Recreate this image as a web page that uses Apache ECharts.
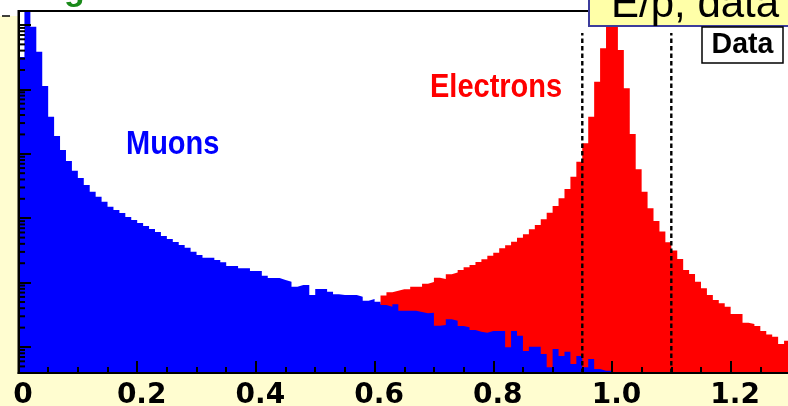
<!DOCTYPE html>
<html><head><meta charset="utf-8">
<script src="https://cdn.jsdelivr.net/npm/echarts@6/dist/echarts.min.js"></script>
<style>html,body{margin:0;padding:0;background:#fff}#c{width:788px;height:406px}</style>
</head><body><div id="c"></div>
<script>
// ---- data ----
const BIN_START = 0.0;
const BIN_WIDTH = 0.01;
const xTickLabels = ['0', '0.2', '0.4', '0.6', '0.8', '1.0', '1.2'];
const cutLines = [0.95, 1.1];
const cutTop = 75000;
const yMinorTicks = [0.5, 0.6, 0.7, 0.8, 0.9,
  2, 3, 4, 5, 6, 7, 8, 9,
  20, 30, 40, 50, 60, 70, 80, 90,
  200, 300, 400, 500, 600, 700, 800, 900,
  2000, 3000, 4000, 5000, 6000, 7000, 8000, 9000,
  20000, 30000, 40000, 50000, 60000, 70000, 80000, 90000];
const muons = [
  31850, 250000, 94200, 38500, 11300, 3770, 1890, 1146, 773, 547,
  421, 328, 258, 216, 180, 151, 134, 120, 104, 94,
  84, 76, 68, 61, 53, 47.5, 42.7, 38.4, 34.8, 30.2,
  26.8, 24.4, 24.4, 22.4, 20.7, 18.1, 18.1, 16.7, 16.7, 15.1,
  15.1, 12.8, 11.8, 11.8, 11.0, 10.3, 8.64, 9.18, 9.18, 6.42,
  7.96, 7.96, 7.22, 6.58, 6.42, 6.42, 6.42, 6.04, 5.24, 5.56,
  5.05, 4.49, 4.22, 4.60, 3.66, 3.66, 3.66, 3.49, 3.34, 3.41,
  2.14, 2.20, 2.69, 2.56, 2.12, 2.02, 1.84, 1.73, 1.67, 1.77,
  1.77, 1.77, 0.99, 1.77, 1.50, 0.867, 1.01, 1.01, 0.778, 0.484,
  0.931, 0.725, 0.846, 0.545, 0.725, 0.484, 0.651, 0.455, 0.43, 0.43
];
const electrons = [
  3.0, 2.6, 2.3, 2.1, 2.0, 1.9, 1.8, 1.8, 1.7, 1.7,
  1.7, 1.6, 1.6, 1.6, 1.7, 1.7, 1.7, 1.8, 1.8, 1.8,
  1.9, 1.9, 2.0, 2.0, 2.1, 2.1, 2.2, 2.2, 2.3, 2.3,
  2.4, 2.4, 2.5, 2.5, 2.6, 2.7, 2.7, 2.8, 2.9, 2.9,
  3.0, 3.1, 3.1, 3.2, 3.3, 3.4, 3.5, 3.5, 3.6, 3.7,
  3.8, 3.9, 4.0, 4.0, 4.1, 4.2, 4.3, 4.4, 4.5, 4.6,
  4.7, 6.31, 7.07, 7.48, 7.87, 7.87, 8.64, 8.64, 9.61, 10.2,
  11.9, 11.4, 13.5, 14.3, 15.7, 17.3, 18.8, 20.9, 23.0, 26.2,
  29.1, 34.1, 37.9, 43.2, 49.8, 56.2, 67.3, 78.4, 96.1, 122,
  155, 204, 284, 441, 754, 1456, 3767, 13180, 43450, 130000,
  120000, 40900, 10400, 2030, 575, 258, 142.5, 90.5, 62.1, 42.2,
  31.5, 23.3, 15.7, 13.6, 10.3, 8.16, 6.42, 5.37, 4.77, 4.22,
  3.25, 3.25, 2.38, 2.28, 2.12, 1.77, 1.57, 1.45, 1.11, 1.25
];

const Y_MIN = 0.395, Y_MAX = 164900;

// histogram outline points (step shape) built from bin values
function histPoints(vals) {
  const pts = [];
  vals.forEach((v, i) => {
    if (v == null) return;
    const x0 = BIN_START + i * BIN_WIDTH;
    pts.push([x0, v], [x0 + BIN_WIDTH, v]);
  });
  return pts;
}

const chart = echarts.init(document.getElementById('c'), null, {renderer: 'canvas'});
const histSeries = (name, vals, color, z) => ({
  name, type: 'line', data: histPoints(vals), showSymbol: false, symbol: 'none',
  lineStyle: {width: 0, opacity: 0}, areaStyle: {color, opacity: 1, origin: 'start'},
  clip: true, z, silent: true, animation: false
});

chart.setOption({
  animation: false,
  backgroundColor: '#FFFDD0',
  grid: {left: 18.5, right: -2, top: 11, bottom: 33, show: true, backgroundColor: '#ffffff',
         borderColor: '#000', borderWidth: 2, containLabel: false, outerBoundsMode: 'none'},
  xAxis: {
    type: 'value', min: 0, max: 1.3, interval: 0.2, z: 10,
    axisLine: {show: true, onZero: false, lineStyle: {color: '#000', width: 2}},
    axisTick: {show: true, inside: true, length: 12, lineStyle: {color: '#000', width: 2}},
    minorTick: {show: true, splitNumber: 4, length: 6, lineStyle: {color: '#000', width: 2}},
    splitLine: {show: false},
    axisLabel: {
      showMaxLabel: false, margin: 9, color: '#000',
      fontFamily: 'DejaVu Sans', fontWeight: 'bold', fontSize: 28, padding: [0, 0, 0, 9],
      formatter: v => xTickLabels[Math.round(v / 0.2)] || ''
    }
  },
  yAxis: {
    type: 'log', min: Y_MIN, max: Y_MAX, logBase: 10, z: 10,
    axisLine: {show: true, lineStyle: {color: '#000', width: 2}},
    axisTick: {show: true, inside: true, length: 12.5, lineStyle: {color: '#000', width: 2}},
    splitLine: {show: false},
    axisLabel: {show: false}
  },
  series: [
    histSeries('Electrons', electrons, '#ff0000', 2),
    histSeries('Muons', muons, '#0000ff', 3),
    ...cutLines.map(x => ({
      type: 'line', data: [[x, Y_MIN], [x, cutTop]], symbol: 'none', z: 5, silent: true,
      lineStyle: {color: '#000', width: 2.4, type: [4.5, 3]}, clip: false
    })),
    {
      type: 'custom', z: 11, silent: true, clip: false,
      data: yMinorTicks.map(v => [0, v]),
      renderItem: (params, api) => {
        const p = api.coord([0, api.value(1)]);
        return {type: 'line', shape: {x1: p[0], y1: p[1], x2: p[0] + 6.5, y2: p[1]},
                style: {stroke: '#000', lineWidth: 2}};
      }
    }
  ],
  graphic: [
    {type: 'rect', z: -100, shape: {x: 0, y: 0, width: 788, height: 16}, style: {fill: '#ffffff'}},
    {type: 'line', shape: {x1: 2, y1: 16, x2: 10, y2: 16}, style: {stroke: '#000', lineWidth: 1.5}},
    {type: 'text', x: 64, y: 8, style: {text: 'g', font: 'bold 34px "Liberation Sans"', fill: '#1a8a1a',
      textAlign: 'left', textVerticalAlign: 'bottom', verticalAlign: 'bottom'}},
    {type: 'rect', z: 50, shape: {x: 589, y: -10, width: 230, height: 36},
      style: {fill: '#FFFFA8', stroke: '#3c3c9c', lineWidth: 2}},
    {type: 'text', z: 51, x: 611, y: 26, style: {text: 'E/p, data', font: '42px "Liberation Sans"', fill: '#000',
      textAlign: 'left', textVerticalAlign: 'bottom', verticalAlign: 'bottom'}},
    {type: 'rect', z: 50, shape: {x: 702, y: 27, width: 81, height: 36},
      style: {fill: '#ffffff', stroke: '#000', lineWidth: 1.5}},
    {type: 'text', z: 51, x: 742.5, y: 45, scaleY: 1.06, style: {text: 'Data', font: 'bold 28.5px "Liberation Sans"', fill: '#000',
      textAlign: 'center', textVerticalAlign: 'middle', verticalAlign: 'middle'}},
    {type: 'text', z: 51, x: 126, y: 162, scaleY: 1.16, style: {text: 'Muons', font: 'bold 29px "Liberation Sans"', fill: '#0000ff',
      textAlign: 'left', textVerticalAlign: 'bottom', verticalAlign: 'bottom'}},
    {type: 'text', z: 51, x: 430, y: 105, scaleY: 1.16, style: {text: 'Electrons', font: 'bold 29px "Liberation Sans"', fill: '#ff0000',
      textAlign: 'left', textVerticalAlign: 'bottom', verticalAlign: 'bottom'}}
  ]
});
</script></body></html>
